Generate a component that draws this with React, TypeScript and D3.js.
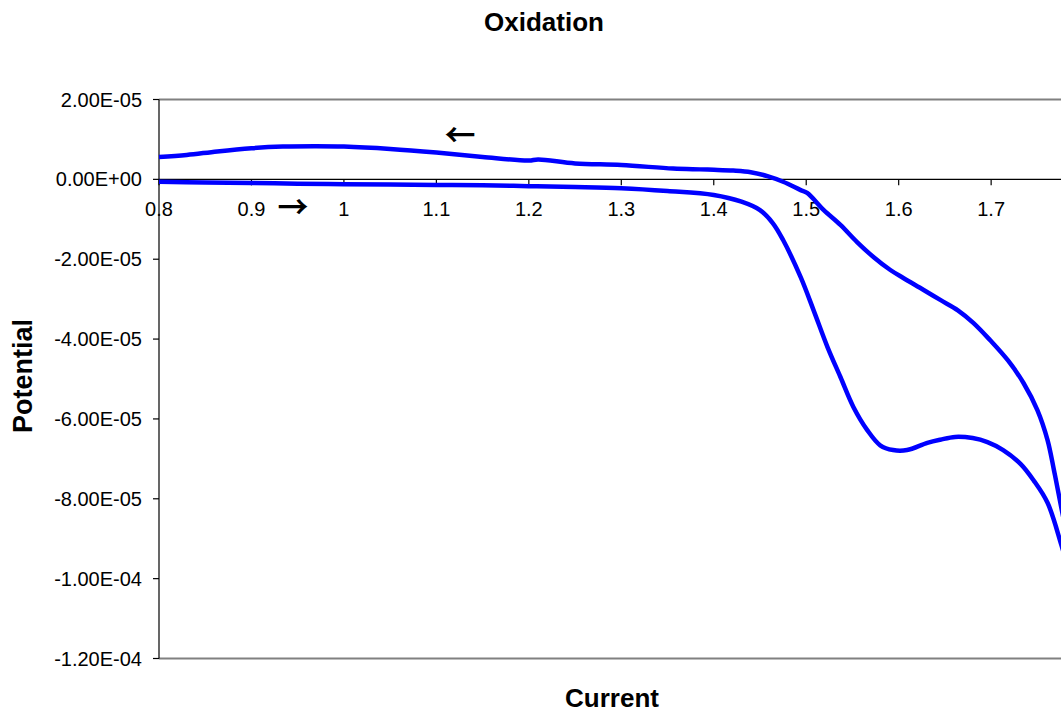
import React from "react";
import * as d3 from "d3";

// Forward scan (lower curve, arrow →)
const forwardCurrent = [0.80, 0.85, 0.90, 0.95, 1.00, 1.05, 1.10, 1.15, 1.20, 1.25, 1.30, 1.35, 1.40, 1.43, 1.45, 1.464, 1.475, 1.494, 1.508, 1.523, 1.537, 1.551, 1.566, 1.580, 1.594, 1.609, 1.631, 1.645, 1.661, 1.680, 1.696, 1.713, 1.732, 1.746, 1.761, 1.776, 1.79, 1.80];
const forwardPotential = [-0.6e-6, -0.8e-6, -0.9e-6, -1.1e-6, -1.2e-6, -1.3e-6, -1.4e-6, -1.5e-6, -1.7e-6, -1.9e-6, -2.2e-6, -2.9e-6, -3.9e-6, -5.6e-6, -7.7e-6, -11e-6, -15.2e-6, -24.5e-6, -32.8e-6, -42e-6, -49.5e-6, -57e-6, -62.8e-6, -66.6e-6, -67.8e-6, -67.8e-6, -66e-6, -65.2e-6, -64.5e-6, -64.8e-6, -65.8e-6, -67.8e-6, -71.3e-6, -75.4e-6, -81e-6, -91.6e-6, -103e-6, -112e-6];

// Reverse scan (upper curve, arrow ←)
const reverseCurrent = [1.80, 1.79, 1.776, 1.768, 1.761, 1.750, 1.735, 1.718, 1.699, 1.681, 1.664, 1.645, 1.627, 1.605, 1.591, 1.573, 1.555, 1.537, 1.519, 1.501, 1.494, 1.475, 1.458, 1.440, 1.421, 1.400, 1.385, 1.356, 1.30, 1.25, 1.21, 1.20, 1.15, 1.10, 1.05, 1.00, 0.97, 0.934, 0.90, 0.863, 0.83, 0.80];
const reversePotential = [-112e-6, -99e-6, -82.3e-6, -72.9e-6, -65.3e-6, -57.8e-6, -51e-6, -45.3e-6, -40.3e-6, -36e-6, -32.8e-6, -30.2e-6, -27.7e-6, -24.7e-6, -22.7e-6, -19.5e-6, -15.7e-6, -11.4e-6, -7.7e-6, -3.4e-6, -2.7e-6, -0.6e-6, 0.8e-6, 1.8e-6, 2.2e-6, 2.4e-6, 2.5e-6, 2.7e-6, 3.6e-6, 4.0e-6, 5.0e-6, 4.7e-6, 5.6e-6, 6.7e-6, 7.6e-6, 8.2e-6, 8.3e-6, 8.2e-6, 7.8e-6, 7.0e-6, 6.1e-6, 5.6e-6];

// visible x ticks (the 1.8 end of the axis lies beyond the picture's right edge)
const xTicks = [0.8, 0.9, 1.0, 1.1, 1.2, 1.3, 1.4, 1.5, 1.6, 1.7];
const xTickLabels = ["0.8", "0.9", "1", "1.1", "1.2", "1.3", "1.4", "1.5", "1.6", "1.7"];
const yTicks = [2e-5, 0, -2e-5, -4e-5, -6e-5, -8e-5, -1e-4, -1.2e-4];
const yTickLabels = ["2.00E-05", "0.00E+00", "-2.00E-05", "-4.00E-05", "-6.00E-05", "-8.00E-05", "-1.00E-04", "-1.20E-04"];

const FONT = "'Liberation Sans', Arial, sans-serif";
const ARROW_FONT = "'Noto Sans CJK JP', 'Liberation Sans', sans-serif";

export default function App() {
  const W = 1061, H = 717;
  const left = 159, right = 1083.6, top = 99.5, bottom = 658.5;
  const x = d3.scaleLinear().domain([0.8, 1.8]).range([left, right]);
  const y = d3.scaleLinear().domain([-1.2e-4, 2e-5]).range([bottom, top]);
  const line = d3
    .line<[number, number]>()
    .x((d) => x(d[0]))
    .y((d) => y(d[1]))
    .curve(d3.curveCatmullRom.alpha(0.5));
  const fwd = forwardCurrent.map((c, i) => [c, forwardPotential[i]] as [number, number]);
  const rev = reverseCurrent.map((c, i) => [c, reversePotential[i]] as [number, number]);
  const y0 = y(0);

  return (
    <svg
      width={W}
      height={H}
      style={{ position: "absolute", left: 0, top: 0, background: "#fff" }}
      fontFamily={FONT}
    >
      <rect x={0} y={0} width={W} height={H} fill="#fff" />
      {/* plot border */}
      <line x1={left} x2={right} y1={top} y2={top} stroke="#808080" strokeWidth={2} />
      <line x1={left} x2={right} y1={bottom} y2={bottom} stroke="#808080" strokeWidth={2} />
      <line x1={right} x2={right} y1={top} y2={bottom} stroke="#808080" strokeWidth={2} />
      {/* y axis */}
      <line x1={left} x2={left} y1={top} y2={bottom} stroke="#000" strokeWidth={1.2} />
      {yTicks.map((t, i) => (
        <g key={"y" + i}>
          <line x1={left - 6} x2={left} y1={y(t)} y2={y(t)} stroke="#000" strokeWidth={1.2} />
          <text x={142} y={y(t) + 7} textAnchor="end" fontSize={20} fill="#000">
            {yTickLabels[i]}
          </text>
        </g>
      ))}
      {/* x axis at zero */}
      <line x1={left} x2={right} y1={y0} y2={y0} stroke="#000" strokeWidth={1.2} />
      {xTicks.map((t, i) => (
        <g key={"x" + i}>
          <line x1={x(t)} x2={x(t)} y1={y0} y2={y0 + 6} stroke="#000" strokeWidth={1.2} />
          <text x={x(t)} y={216} textAnchor="middle" fontSize={20} fill="#000">
            {xTickLabels[i]}
          </text>
        </g>
      ))}
      {/* data */}
      <path d={line(fwd) || ""} fill="none" stroke="#0000ff" strokeWidth={4.5} strokeLinejoin="round" />
      <path d={line(rev) || ""} fill="none" stroke="#0000ff" strokeWidth={4.5} strokeLinejoin="round" />
      {/* annotations */}
      <text x={460} y={132} textAnchor="middle" dominantBaseline="central" fontSize={31} fontWeight="bold" fontFamily={ARROW_FONT} fill="#000">
        ←
      </text>
      <text x={293} y={204} textAnchor="middle" dominantBaseline="central" fontSize={31} fontWeight="bold" fontFamily={ARROW_FONT} fill="#000">
        →
      </text>
      {/* titles */}
      <text x={544} y={31} textAnchor="middle" fontSize={26} fontWeight="bold" fill="#000">
        Oxidation
      </text>
      <text x={612} y={707} textAnchor="middle" fontSize={26} fontWeight="bold" fill="#000">
        Current
      </text>
      <text
        transform={`translate(32,376) rotate(-90)`}
        textAnchor="middle"
        fontSize={27}
        fontWeight="bold"
        fill="#000"
      >
        Potential
      </text>
    </svg>
  );
}
